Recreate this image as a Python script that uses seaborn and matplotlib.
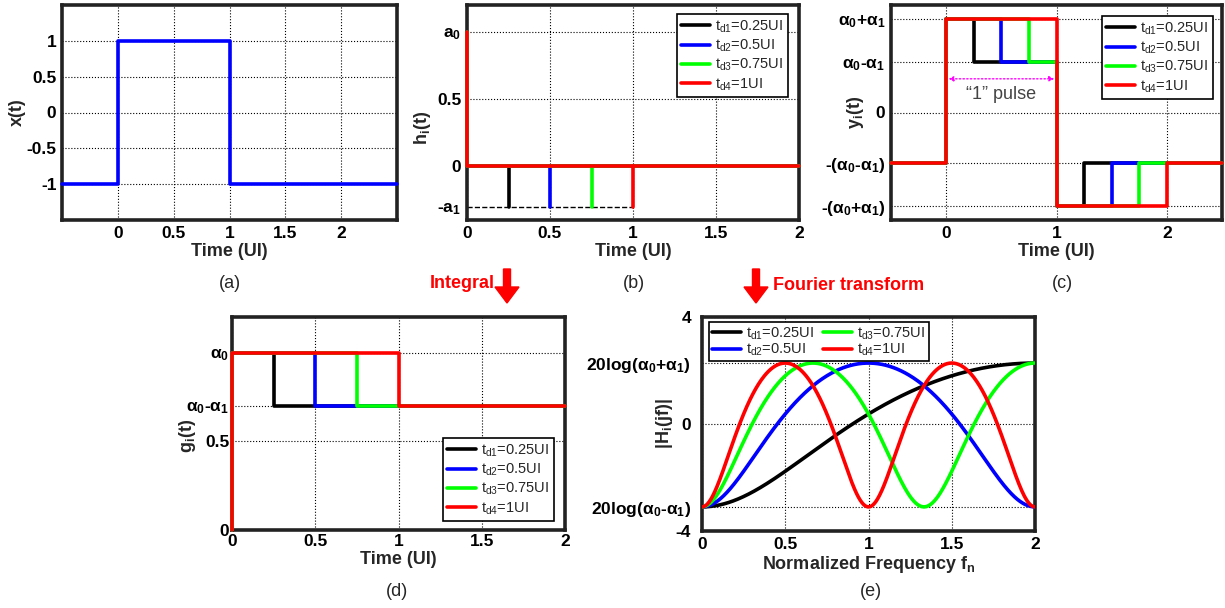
import numpy as np
import pandas as pd
import matplotlib
matplotlib.use("Agg")
import matplotlib.pyplot as plt
import seaborn as sns
from matplotlib.lines import Line2D
from matplotlib.patches import FancyArrow

sns.set_theme(style="white")
plt.rcParams["font.family"] = ["Liberation Sans Narrow", "Liberation Sans", "DejaVu Sans"]
plt.rcParams["mathtext.fontset"] = "custom"
plt.rcParams["mathtext.rm"] = "Liberation Sans"
plt.rcParams["mathtext.it"] = "Liberation Sans:italic"
plt.rcParams["mathtext.bf"] = "Liberation Sans:bold"

# ---- model parameters ----------------------------------------------------
alpha0 = 1.0          # main tap
alpha1 = 0.3          # post-cursor tap
delays_ui = [0.25, 0.5, 0.75, 1.0]
series_colors = ["#000000", "#0000ff", "#00ff00", "#ff0000"]
delay_labels = [r"$\mathregular{t_{d1}}$=0.25UI", r"$\mathregular{t_{d2}}$=0.5UI",
                r"$\mathregular{t_{d3}}$=0.75UI", r"$\mathregular{t_{d4}}$=1UI"]

# input "1" pulse x(t)
pulse_t = [-0.5, 0, 0, 1, 1, 2.5]
pulse_x = [-1, -1, 1, 1, -1, -1]

# normalized frequency grid for the magnitude response
freq_norm = np.linspace(0, 2, 601)

LW = 2.6
TICK_FS = 12.5
LABEL_FS = 13
LEG_FS = 10.5


def style_axes(ax):
    for s in ax.spines.values():
        s.set_visible(True)
        s.set_color("#222222")
        s.set_linewidth(2.6)
    ax.grid(True, color="black", linestyle=":", linewidth=0.8)
    ax.tick_params(direction="in", length=4, width=1, pad=4,
                   labelsize=TICK_FS, colors="black")
    ax.set_facecolor("white")


def bold_ticks(ax):
    for lab in ax.get_xticklabels() + ax.get_yticklabels():
        lab.set_fontweight("bold")


def step_line(ax, xs, ys, color, zorder=3, **kw):
    sns.lineplot(x=xs, y=ys, estimator=None, sort=False, color=color,
                 linewidth=LW, ax=ax, legend=False, **kw)
    ln = ax.lines[-1]
    ln.set_clip_on(False)
    ln.set_zorder(zorder)
    return ln


def delay_legend(ax, labelspacing=0.2, borderpad=0.3, **kw):
    handles = [Line2D([], [], color=c, lw=LW) for c in series_colors]
    leg = ax.legend(handles, delay_labels, frameon=True, fancybox=False,
                    edgecolor="black", framealpha=1, fontsize=LEG_FS,
                    handlelength=2.0, handletextpad=0.35, borderpad=borderpad,
                    labelspacing=labelspacing, borderaxespad=0, **kw)
    leg.get_frame().set_linewidth(1.2)
    return leg


fig = plt.figure(figsize=(12.25, 6.08), dpi=100)
W, H = 1225, 608


def add_axes_px(left, top, right, bottom):
    return fig.add_axes([left / W, 1 - bottom / H, (right - left) / W, (bottom - top) / H])


# ---- (a) input pulse -----------------------------------------------------
ax_a = add_axes_px(62, 5, 397, 220)
style_axes(ax_a)
step_line(ax_a, pulse_t, pulse_x, "#0000ff")
ax_a.set_xlim(-0.5, 2.5)
ax_a.set_ylim(-1.5, 1.5)
ax_a.set_xticks([0, 0.5, 1, 1.5, 2], ["0", "0.5", "1", "1.5", "2"])
ax_a.set_yticks([-1, -0.5, 0, 0.5, 1], ["-1", "-0.5", "0", "0.5", "1"])
bold_ticks(ax_a)
ax_a.set_xlabel("Time (UI)", fontsize=LABEL_FS, fontweight="bold", labelpad=2)
ax_a.set_ylabel("x(t)", fontsize=LABEL_FS, fontweight="bold")
ax_a.yaxis.set_label_coords(-0.107, 0.5)

# ---- (b) impulse responses ------------------------------------------------
ax_b = add_axes_px(467, 5, 799, 220)
style_axes(ax_b)
sns.lineplot(x=[0, 1], y=[-alpha1, -alpha1], estimator=None, sort=False,
             color="black", linewidth=1.0, linestyle="--", ax=ax_b, legend=False)
for td, c in zip(delays_ui, series_colors):
    step_line(ax_b, [0, 0, 0, 2], [alpha0, 0, 0, 0], c)
    step_line(ax_b, [td, td], [0, -alpha1], c)
ax_b.set_xlim(0, 2)
ax_b.set_ylim(-0.4, 1.2)
ax_b.set_xticks([0, 0.5, 1, 1.5, 2], ["0", "0.5", "1", "1.5", "2"])
ax_b.set_yticks([-alpha1, 0, 0.5, alpha0],
                [r"-a$\mathregular{_1}$", "0", "0.5", r"a$\mathregular{_0}$"])
ax_b.get_ygridlines()[0].set_visible(False)
bold_ticks(ax_b)
ax_b.set_xlabel("Time (UI)", fontsize=LABEL_FS, fontweight="bold", labelpad=2)
ax_b.set_ylabel(r"h$\mathregular{_i}$(t)", fontsize=LABEL_FS, fontweight="bold")
ax_b.yaxis.set_label_coords(-0.102, 0.43)
delay_legend(ax_b, loc="upper right", bbox_to_anchor=(0.967, 0.958))

# ---- (c) equalized output --------------------------------------------------
ax_c = add_axes_px(891, 5, 1222, 220)
style_axes(ax_c)
hi, lo = alpha0 + alpha1, alpha0 - alpha1
for td, c in zip(delays_ui, series_colors):
    xs = [-0.5, 0, 0, td, td, 1, 1, 1 + td, 1 + td, 2.5]
    ys = [-lo, -lo, hi, hi, lo, lo, -hi, -hi, -lo, -lo]
    step_line(ax_c, xs, ys, c)
ax_c.annotate("", xy=(0.02, 0.47), xytext=(0.98, 0.47),
              arrowprops=dict(arrowstyle="<|-|>", color="#ff00ff", lw=1.0,
                              linestyle=":", mutation_scale=7, shrinkA=0, shrinkB=0))
ax_c.text(0.5, 0.25, "\u201c1\u201d pulse", ha="center", va="center",
          fontsize=13, color="#444444")
ax_c.set_xlim(-0.5, 2.5)
ax_c.set_ylim(-1.5, 1.5)
ax_c.set_xticks([0, 1, 2], ["0", "1", "2"])
ax_c.set_yticks([-hi, -lo, 0, lo, hi],
                [r"-($\mathregular{\alpha_0}$+$\mathregular{\alpha_1}$)",
                 r"-($\mathregular{\alpha_0}$-$\mathregular{\alpha_1}$)", "0",
                 r"$\mathregular{\alpha_0}$-$\mathregular{\alpha_1}$",
                 r"$\mathregular{\alpha_0}$+$\mathregular{\alpha_1}$"])
bold_ticks(ax_c)
ax_c.set_xlabel("Time (UI)", fontsize=LABEL_FS, fontweight="bold", labelpad=2)
ax_c.set_ylabel(r"y$\mathregular{_i}$(t)", fontsize=LABEL_FS, fontweight="bold")
ax_c.yaxis.set_label_coords(-0.076, 0.5)
delay_legend(ax_c, loc="upper right", bbox_to_anchor=(0.973, 0.949))

# ---- (d) step responses ----------------------------------------------------
ax_d = add_axes_px(232, 317, 565, 530)
style_axes(ax_d)
for td, c in zip(delays_ui, series_colors):
    step_line(ax_d, [0, 0, td, td, 2], [0, alpha0, alpha0, lo, lo], c)
ax_d.set_xlim(0, 2)
ax_d.set_ylim(0, 1.2)
ax_d.set_xticks([0, 0.5, 1, 1.5, 2], ["0", "0.5", "1", "1.5", "2"])
ax_d.set_yticks([0, 0.5, lo, alpha0],
                ["0", "0.5", r"$\mathregular{\alpha_0}$-$\mathregular{\alpha_1}$",
                 r"$\mathregular{\alpha_0}$"])
bold_ticks(ax_d)
ax_d.tick_params(axis="y", pad=2)
ax_d.tick_params(axis="x", pad=3)
ax_d.set_xlabel("Time (UI)", fontsize=LABEL_FS, fontweight="bold", labelpad=1)
ax_d.set_ylabel(r"g$\mathregular{_i}$(t)", fontsize=LABEL_FS, fontweight="bold")
ax_d.yaxis.set_label_coords(-0.102, 0.44)
delay_legend(ax_d, loc="lower right", bbox_to_anchor=(0.967, 0.042))

# ---- (e) magnitude responses ----------------------------------------------
ax_e = add_axes_px(702, 317, 1035, 531)
style_axes(ax_e)
frames = []
for td, lab in zip(delays_ui, delay_labels):
    mag = np.abs(alpha0 - alpha1 * np.exp(-2j * np.pi * freq_norm * td))
    frames.append(pd.DataFrame({"fn": freq_norm, "dB": 20 * np.log10(mag), "delay": lab}))
resp = pd.concat(frames, ignore_index=True)
sns.lineplot(data=resp, x="fn", y="dB", hue="delay", hue_order=delay_labels,
             palette=dict(zip(delay_labels, series_colors)), estimator=None,
             sort=False, linewidth=LW, ax=ax_e, legend=False)
for ln in ax_e.lines:
    ln.set_zorder(3)
db_hi = 20 * np.log10(alpha0 + alpha1)
db_lo = 20 * np.log10(alpha0 - alpha1)
ax_e.set_xlim(0, 2)
ax_e.set_ylim(-4, 4)
ax_e.set_xticks([0, 0.5, 1, 1.5, 2], ["0", "0.5", "1", "1.5", "2"])
ax_e.set_yticks([-4, db_lo, 0, db_hi, 4],
                ["-4", r"20log($\mathregular{\alpha_0}$-$\mathregular{\alpha_1}$)", "0",
                 r"20log($\mathregular{\alpha_0}$+$\mathregular{\alpha_1}$)", "4"])
bold_ticks(ax_e)
ax_e.tick_params(axis="y", pad=8)
ax_e.set_xlabel(r"Normalized Frequency f$\mathregular{_n}$", fontsize=LABEL_FS,
                fontweight="bold", labelpad=2)
ax_e.set_ylabel(r"|H$\mathregular{_i}$(jf)|", fontsize=LABEL_FS, fontweight="bold")
ax_e.yaxis.set_label_coords(-0.081, 0.5)
leg_e = delay_legend(ax_e, loc="upper left", bbox_to_anchor=(0.021, 0.975), ncol=2,
                     columnspacing=0.6, labelspacing=0.02, borderpad=0.2)
leg_e.set_zorder(5)

# ---- captions and flow arrows ---------------------------------------------
for txt, (x, y) in {"(a)": (230, 283), "(b)": (634, 283), "(c)": (1062, 283),
                    "(d)": (397, 592), "(e)": (871, 592)}.items():
    fig.text(x / W, 1 - y / H, txt, ha="center", va="center", fontsize=13,
             family=["Liberation Sans", "DejaVu Sans"])

fig.text(462 / W, 1 - 283 / H, "Integral", ha="center", va="center",
         fontsize=13, fontweight="bold", color="#ff0000")
fig.text(773 / W, 1 - 285 / H, "Fourier transform", ha="left", va="center",
         fontsize=13, fontweight="bold", color="#ff0000")
for ax_x in (507, 756):
    fig.add_artist(FancyArrow(ax_x / W, 1 - 269 / H, 0, -(34 / H),
                              width=7 / W, head_width=24 / W, head_length=16 / H,
                              length_includes_head=True, color="#ff0000",
                              transform=fig.transFigure))

fig.savefig("out.png", dpi=100)
